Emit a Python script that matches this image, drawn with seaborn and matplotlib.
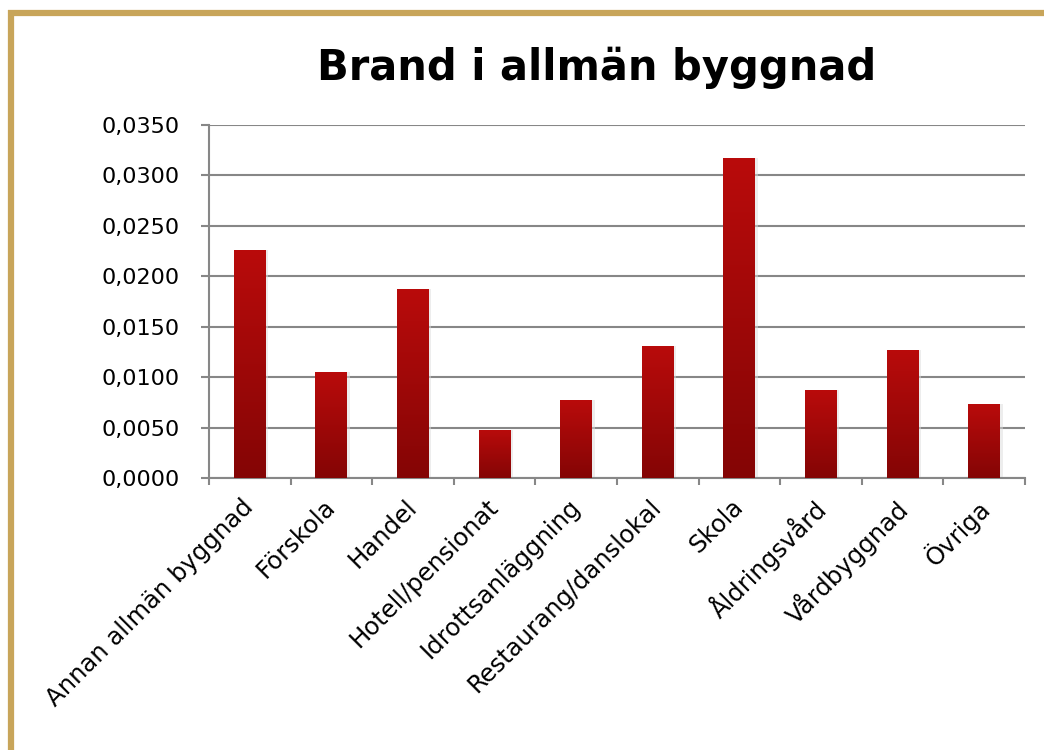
"""Brand i allmän byggnad - bar chart with gradient bars."""
import matplotlib
matplotlib.use("Agg")
import matplotlib.pyplot as plt
import matplotlib.transforms as mtransforms
import numpy as np
import pandas as pd
import seaborn as sns
from matplotlib.colors import LinearSegmentedColormap
from matplotlib.lines import Line2D
from matplotlib.ticker import FixedLocator, FuncFormatter

categories = [
    "Annan allmän byggnad", "Förskola", "Handel", "Hotell/pensionat",
    "Idrottsanläggning", "Restaurang/danslokal", "Skola", "Åldringsvård",
    "Vårdbyggnad", "Övriga",
]
values = [0.0226, 0.0105, 0.0187, 0.0048, 0.0077, 0.0131, 0.0317, 0.0087, 0.0127, 0.0073]
y_ticks = [0.0, 0.005, 0.010, 0.015, 0.020, 0.025, 0.030, 0.035]

GRID = "#878787"
FRAME = "#C8A55A"
BAR_TOP = "#B90B0B"
BAR_BOTTOM = "#840505"

sns.set_theme(style="white")
plt.rcParams["font.family"] = ["DejaVu Sans"]
plt.rcParams["text.color"] = "black"

df = pd.DataFrame({"kategori": categories, "varde": values})

fig = plt.figure(figsize=(10.44, 7.5), dpi=100)
ax = fig.add_axes([209 / 1044, 1 - 478 / 750, (1025 - 209) / 1044, 353 / 750])

sns.barplot(data=df, x="kategori", y="varde", ax=ax, width=0.39, color=BAR_TOP,
            saturation=1, zorder=3)

# gradient fill per bar
cmap = LinearSegmentedColormap.from_list("bar", [BAR_BOTTOM, BAR_TOP])
grad = np.linspace(0, 1, 256).reshape(-1, 1)
for p in list(ax.patches):
    x0, y0 = p.get_x(), p.get_y()
    w, h = p.get_width(), p.get_height()
    # faint shadow to the right
    ax.add_patch(plt.Rectangle((x0 + w, y0), 0.03, h, color="#dcdcdc", alpha=0.5,
                               zorder=2, lw=0))
    im = ax.imshow(grad, cmap=cmap, origin="lower", aspect="auto",
                   extent=(x0, x0 + w, y0, y0 + h), zorder=4)
    im.set_clip_path(p)
    p.set_facecolor("none")
    p.set_edgecolor("none")
ax.set_xlim(-0.5, len(categories) - 0.5)
ax.set_ylim(0, 0.035)

ax.yaxis.set_major_locator(FixedLocator(y_ticks))
ax.yaxis.set_major_formatter(FuncFormatter(lambda v, _: f"{v:.4f}".replace(".", ",")))
ax.grid(axis="y", color=GRID, linewidth=1.5, zorder=1)
ax.set_axisbelow(True)

for side in ["top", "right"]:
    ax.spines[side].set_visible(False)
for side in ["left", "bottom"]:
    ax.spines[side].set_color(GRID)
    ax.spines[side].set_linewidth(1.5)

ax.tick_params(axis="y", which="major", left=True, length=6, width=1.5, color=GRID,
               pad=15, labelsize=16, labelcolor="black")
ax.set_xticks(range(len(categories)))
ax.set_xticklabels(categories, rotation=45, ha="right", rotation_mode="anchor")
ax.tick_params(axis="x", which="major", bottom=False, length=0, pad=12,
               labelsize=17.5, labelcolor="black")
shift = mtransforms.ScaledTranslation(-6 / 72, 0, fig.dpi_scale_trans)
for lbl in ax.get_xticklabels():
    lbl.set_transform(lbl.get_transform() + shift)
ax.set_xticks(np.arange(-0.5, len(categories), 1.0), minor=True)
ax.tick_params(axis="x", which="minor", bottom=True, length=5, width=1.5,
               color=GRID, direction="out")
ax.set_xlabel("")
ax.set_ylabel("")

fig.text(597 / 1044, 1 - 80 / 750, "Brand i allmän byggnad", ha="center",
         va="baseline", fontsize=30, fontweight="bold", color="black")

# golden frame: top and left edges
fig.add_artist(Line2D([8 / 1044, 1.0], [1 - 13 / 750] * 2, color=FRAME, linewidth=4.5,
                      transform=fig.transFigure, solid_capstyle="butt"))
fig.add_artist(Line2D([11 / 1044] * 2, [0.0, 1 - 10 / 750], color=FRAME, linewidth=4.5,
                      transform=fig.transFigure, solid_capstyle="butt"))

fig.savefig("out.png", dpi=100, facecolor="white")
